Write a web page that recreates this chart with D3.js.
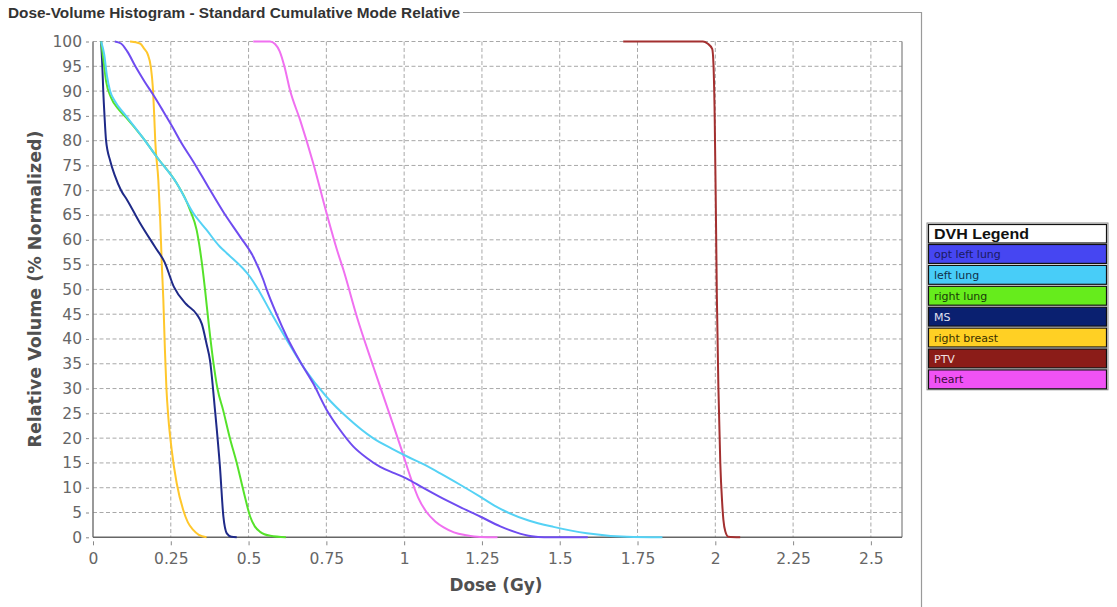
<!DOCTYPE html>
<html>
<head>
<meta charset="utf-8">
<script src="https://cdn.jsdelivr.net/npm/d3@7"></script>
<style>
  html, body { margin: 0; padding: 0; background: #fff; }
  svg { display: block; }
</style>
</head>
<body>
<div id="chart"></div>
<script>
// ---- data (dose in Gy, relative volume in %) ----
const optLeftLung = [[0.07,100],[0.09,99.6],[0.11,98],[0.138,94.8],[0.165,92],[0.192,89.4],[0.225,86],[0.256,82.7],[0.28,80],[0.325,75.5],[0.37,70.7],[0.42,65.5],[0.473,60.6],[0.515,56.6],[0.547,52],[0.558,50],[0.59,45],[0.623,40.4],[0.665,35.5],[0.708,31],[0.751,25.7],[0.79,22],[0.837,18.3],[0.88,16],[0.923,14.2],[0.97,12.9],[1.01,11.8],[1.06,10],[1.116,8.1],[1.18,6.1],[1.244,4.2],[1.309,2.2],[1.36,1],[1.41,0.2],[1.45,0],[1.59,0]];
const leftLung = [[0.026,100],[0.036,97.4],[0.045,93],[0.055,90],[0.07,88],[0.106,85],[0.16,80.6],[0.205,76.7],[0.269,71.4],[0.322,65.4],[0.365,62],[0.408,58.6],[0.43,57.3],[0.505,52.5],[0.526,50.5],[0.575,45],[0.623,39.8],[0.68,34],[0.751,28.3],[0.82,24],[0.9,20],[0.96,17.9],[1.01,16.3],[1.06,14.8],[1.116,12.9],[1.18,10.6],[1.244,8.2],[1.29,6.4],[1.33,5.1],[1.4,3.4],[1.48,2.1],[1.587,0.8],[1.716,0.1],[1.83,0]];
const rightLung = [[0.026,100],[0.034,96],[0.042,92],[0.058,88.7],[0.08,86.5],[0.106,84.7],[0.16,80.6],[0.205,76.7],[0.269,71.4],[0.295,68.5],[0.312,66],[0.333,62],[0.344,58],[0.35,55.3],[0.36,50],[0.372,43],[0.386,35.7],[0.4,30],[0.418,25.7],[0.44,20],[0.462,15],[0.485,9],[0.505,4.2],[0.52,2.2],[0.537,1.1],[0.57,0.3],[0.62,0]];
const ms = [[0.026,100],[0.03,95],[0.033,90],[0.037,85],[0.042,80],[0.055,76],[0.07,73],[0.09,70],[0.11,68],[0.15,63.5],[0.2,58.5],[0.23,55.5],[0.26,50.5],[0.3,47],[0.333,45],[0.35,43],[0.365,39],[0.376,35.7],[0.392,25.7],[0.408,14.2],[0.419,4.2],[0.43,0.8],[0.445,0.1],[0.462,0]];
const rightBreast = [[0.119,100],[0.151,99.6],[0.165,98.5],[0.176,97.4],[0.186,94.8],[0.192,91],[0.197,84.7],[0.2,80],[0.21,72],[0.216,64],[0.221,55.2],[0.226,48],[0.231,38],[0.236,30],[0.242,24.3],[0.253,17.6],[0.269,10.9],[0.29,5.5],[0.305,3],[0.322,1.5],[0.34,0.5],[0.365,0]];
const ptv = [[1.704,100],[1.96,100],[1.975,99.6],[1.99,98.5],[1.994,95.5],[1.998,85],[2.002,65],[2.005,48.5],[2.01,30],[2.016,15],[2.022,7],[2.026,3.5],[2.032,1.2],[2.042,0.1],[2.08,0]];
const heart = [[0.515,100],[0.569,100],[0.585,99.5],[0.6,98],[0.615,95],[0.633,90.2],[0.666,84.1],[0.708,75.4],[0.751,65.3],[0.784,58],[0.805,53.9],[0.848,44.5],[0.901,34.4],[0.955,24.5],[0.99,18],[1.02,12.2],[1.045,8],[1.073,5],[1.1,3.2],[1.127,2],[1.16,1],[1.2,0.4],[1.244,0.05],[1.3,0]];

const seriesNames = ["opt left lung", "left lung", "right lung", "MS", "right breast", "PTV", "heart"];
const seriesData = [optLeftLung, leftLung, rightLung, ms, rightBreast, ptv, heart];
const lineColors = ["#6f4cf0", "#55d2f5", "#55e22a", "#1f2a88", "#ffc72c", "#a33030", "#f070f0"];
const legendColors = ["#4646f2", "#48cdf8", "#66ec1c", "#0a2070", "#ffd024", "#8b1c18", "#f052f5"];
const legendText = ["#1a1a60", "#10304a", "#183a08", "#e0e0f0", "#3a3000", "#f0e0e0", "#400a40"];
// drawing order (right lung under left lung so the shared part reads teal-ish)
const drawOrder = [5, 6, 4, 3, 2, 1, 0];

const xTicks = [0, 0.25, 0.5, 0.75, 1, 1.25, 1.5, 1.75, 2, 2.25, 2.5];
const xTickLabels = ["0", "0.25", "0.5", "0.75", "1", "1.25", "1.5", "1.75", "2", "2.25", "2.5"];
const yTicks = d3.range(0, 101, 5);
const yTickLabels = yTicks.map(String);

// ---- layout ----
const W = 1117, H = 607;
const plot = { left: 93, right: 902, top: 41.5, bottom: 537.3 };

const svg = d3.select('#chart').append('svg')
    .attr('width', W).attr('height', H)
    .style('font-family', '"DejaVu Sans", Verdana, sans-serif');

svg.append('rect').attr('width', W).attr('height', H).attr('fill', '#fff');

const x = d3.scaleLinear().domain([0, 2.6]).range([plot.left, plot.right]);
const y = d3.scaleLinear().domain([0, 100]).range([plot.bottom, plot.top]);

// titled border of the panel
svg.append('text')
    .attr('x', 8).attr('y', 18)
    .attr('fill', '#333')
    .style('font-family', '"Liberation Sans", Arial, sans-serif')
    .style('font-weight', 'bold')
    .style('font-size', '14px')
    .attr('textLength', 452).attr('lengthAdjust', 'spacingAndGlyphs')
    .text('Dose-Volume Histogram - Standard Cumulative Mode Relative');

svg.append('path')
    .attr('d', `M463,12.5H921.5V${H}`)
    .attr('fill', 'none').attr('stroke', '#9a9a9a').attr('stroke-width', 1.2);

// grid
const grid = svg.append('g');
grid.selectAll('line.h').data(yTicks.filter(d => d > 0)).join('line')
    .attr('x1', plot.left).attr('x2', plot.right)
    .attr('y1', d => y(d)).attr('y2', d => y(d))
    .attr('stroke', '#a8a8a8').attr('stroke-dasharray', '4,2.5');
grid.selectAll('line.v').data(xTicks.filter(d => d > 0)).join('line')
    .attr('y1', plot.top).attr('y2', plot.bottom)
    .attr('x1', d => x(d)).attr('x2', d => x(d))
    .attr('stroke', '#a8a8a8').attr('stroke-dasharray', '4,2.5');

// frame
svg.append('line').attr('x1', plot.right).attr('x2', plot.right)
    .attr('y1', plot.top).attr('y2', plot.bottom)
    .attr('stroke', '#8a8a8a').attr('stroke-width', 1.3);
svg.append('line').attr('x1', plot.left).attr('x2', plot.left)
    .attr('y1', plot.top).attr('y2', plot.bottom)
    .attr('stroke', '#777').attr('stroke-width', 1.5);
svg.append('line').attr('x1', plot.left).attr('x2', plot.right)
    .attr('y1', plot.bottom).attr('y2', plot.bottom)
    .attr('stroke', '#666').attr('stroke-width', 1.5);

// axes
const yAxis = svg.append('g')
    .attr('transform', `translate(${plot.left - 4},0)`)
    .call(d3.axisLeft(y).tickValues(yTicks).tickSize(3).tickPadding(4)
        .tickFormat((d, i) => yTickLabels[i]));
const xAxis = svg.append('g')
    .attr('transform', `translate(0,${plot.bottom + 4})`)
    .call(d3.axisBottom(x).tickValues(xTicks).tickSize(4).tickPadding(8)
        .tickFormat((d, i) => xTickLabels[i]));

[yAxis, xAxis].forEach(g => {
    g.select('.domain').remove();
    g.selectAll('.tick line').attr('stroke', '#888');
    g.selectAll('.tick text')
        .attr('fill', '#666')
        .style('font-family', '"DejaVu Sans", Verdana, sans-serif')
        .style('font-size', '15.5px');
});

// axis titles
svg.append('text')
    .attr('transform', `translate(41,289) rotate(-90)`)
    .attr('text-anchor', 'middle')
    .attr('fill', '#505050')
    .style('font-size', '17px')
    .style('font-weight', 'bold')
    .attr('textLength', 317).attr('lengthAdjust', 'spacingAndGlyphs')
    .text('Relative Volume (% Normalized)');

svg.append('text')
    .attr('x', 496).attr('y', 591)
    .attr('text-anchor', 'middle')
    .attr('fill', '#505050')
    .style('font-size', '17px')
    .style('font-weight', 'bold')
    .attr('textLength', 93).attr('lengthAdjust', 'spacingAndGlyphs')
    .text('Dose (Gy)');

// curves
const line = d3.line()
    .x(d => x(d[0]))
    .y(d => y(d[1]))
    .curve(d3.curveMonotoneX);

const curves = svg.append('g');
drawOrder.forEach(i => {
    curves.append('path')
        .datum(seriesData[i])
        .attr('d', line)
        .attr('fill', 'none')
        .attr('stroke', lineColors[i])
        .attr('stroke-width', 2)
        .attr('stroke-linejoin', 'round');
});

// legend
const lg = { x: 927, y: 223, w: 181, head: 20.5, row: 20.9 };
const legend = svg.append('g');
legend.append('rect')
    .attr('x', lg.x).attr('y', lg.y)
    .attr('width', lg.w).attr('height', lg.head + lg.row * seriesNames.length)
    .attr('fill', '#fff').attr('stroke', '#8a8a8a');
legend.append('rect')
    .attr('x', lg.x + 1.5).attr('y', lg.y + 1.5)
    .attr('width', lg.w - 3).attr('height', lg.head - 2)
    .attr('fill', '#fff').attr('stroke', '#111').attr('stroke-width', 1.2);
legend.append('text')
    .attr('x', lg.x + 7).attr('y', lg.y + 16)
    .attr('fill', '#111')
    .style('font-family', '"Liberation Sans", Arial, sans-serif')
    .style('font-weight', 'bold').style('font-size', '15px')
    .attr('textLength', 95).attr('lengthAdjust', 'spacingAndGlyphs')
    .text('DVH Legend');

const rows = legend.selectAll('g.row').data(seriesNames).join('g')
    .attr('transform', (d, i) => `translate(${lg.x + 1.5},${lg.y + lg.head + i * lg.row + 1})`);
rows.append('rect')
    .attr('width', lg.w - 3).attr('height', lg.row - 2)
    .attr('fill', (d, i) => legendColors[i])
    .attr('stroke', '#111').attr('stroke-width', 1.2);
rows.append('text')
    .attr('x', 5.5).attr('y', 13.5)
    .attr('fill', (d, i) => legendText[i])
    .style('font-family', '"DejaVu Sans", Verdana, sans-serif')
    .style('font-size', '11px')
    .text(d => d);
</script>
</body>
</html>
